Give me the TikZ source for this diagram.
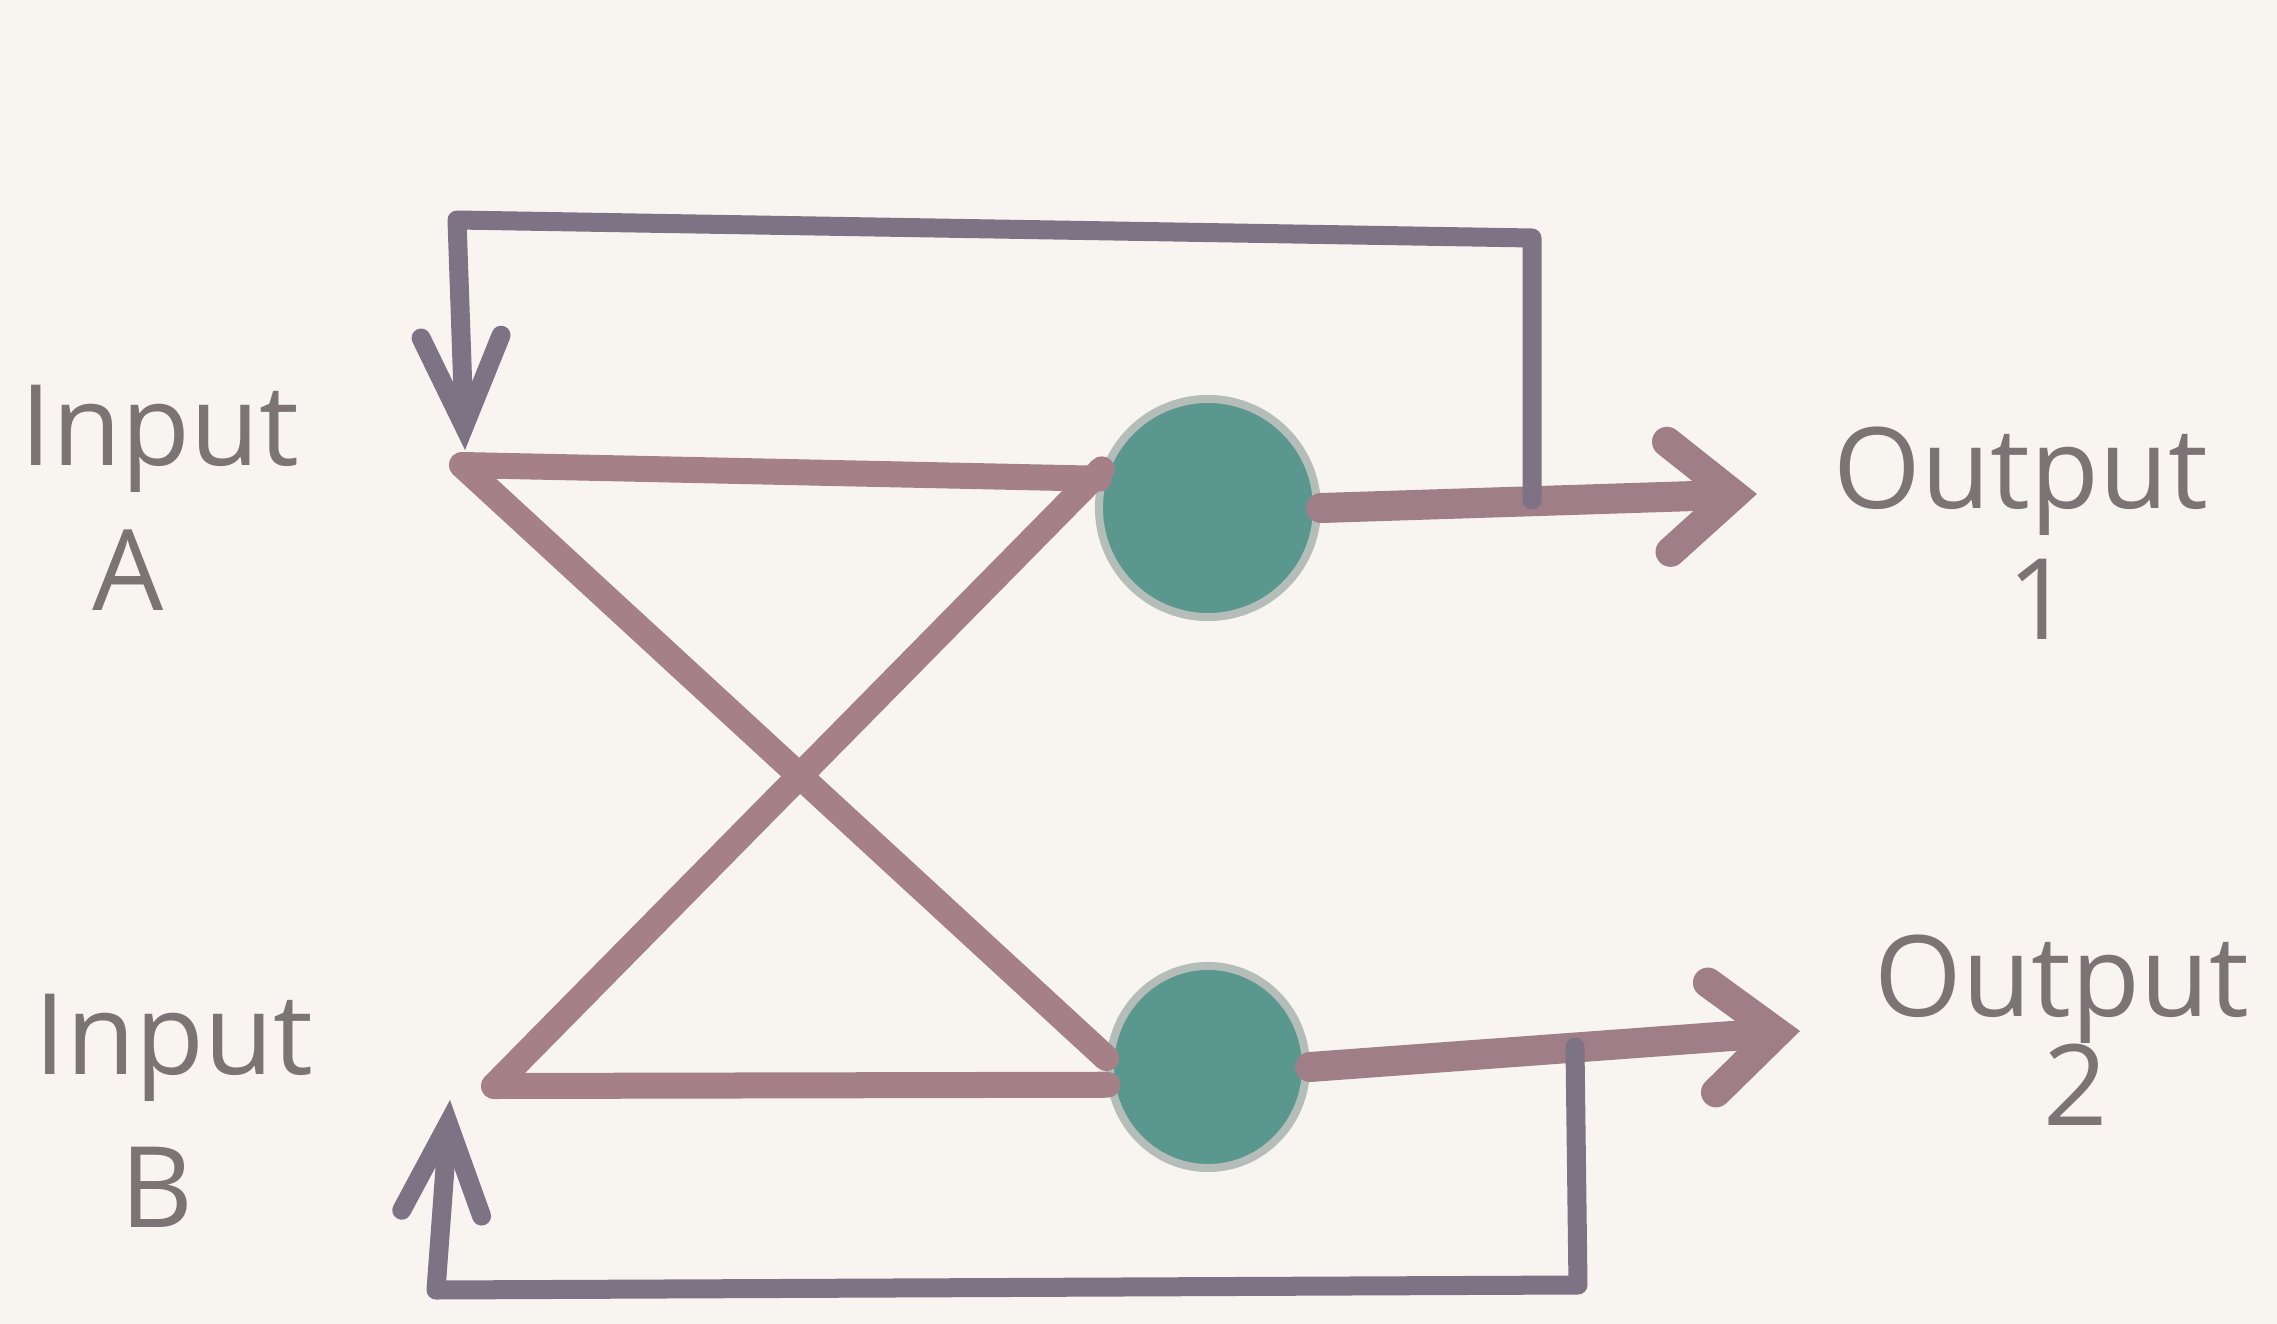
\documentclass[tikz,border=0pt]{standalone}
\usepackage{fontspec}
\setmainfont{Open Sans}
\usetikzlibrary{arrows.meta,shapes.geometric}
\definecolor{bg}{HTML}{F8F5F1}
\definecolor{fbcol}{HTML}{7E7285}
\definecolor{maincol}{HTML}{A58087}
\definecolor{mixfill}{HTML}{5A988F}
\definecolor{ring}{HTML}{B5BDB8}
\definecolor{txt}{HTML}{7C7474}
\begin{document}
\begin{tikzpicture}[x=0.01cm,y=-0.01cm,
  fb/.style={draw=fbcol,line width=0.19cm,line join=round,line cap=round},
  mainline/.style={draw=maincol,line width=0.26cm,line cap=round},
  outarrow/.style={draw=maincol!85!fbcol,line width=0.3cm,line cap=round,
    -{Straight Barb[length=0.65cm,width=1.1cm,line cap=round]}},
  inarrow/.style={-{Straight Barb[length=0.9cm,width=0.8cm,line cap=round]}},
  mixer/.style={circle,fill=mixfill,draw=ring,line width=0.08cm,inner sep=0pt},
  lbl/.style={text=txt,font=\fontsize{32}{38}\selectfont,anchor=base}]
\fill[bg] (0,0) rectangle (2277,1324);
\useasboundingbox (0,0) rectangle (2277,1324);

% mixers
\node[mixer,minimum size=2.18cm] (c1) at (1208,508) {};
\node[mixer,ellipse,minimum width=1.96cm,minimum height=2.02cm] (c2) at (1208,1067) {};

% junctions and corners
\coordinate (inA) at (462,465);
\coordinate (inAtip) at (465,450);
\coordinate (inB) at (494,1086);
\coordinate (inBtip) at (450,1100);
\coordinate (o1tip) at (1757,494);
\coordinate (o2tip) at (1800,1031);
\coordinate (tap1) at (1532,500);
\coordinate (tap2) at (1575,1047);
\coordinate (tl) at (457,220);
\coordinate (tr) at (1532,238);
\coordinate (br) at (1578,1285);
\coordinate (bl) at (436,1290);

% main signal lines
\draw[mainline] (inA) -- (c1.165);
\draw[mainline] (inA) -- (c2.175);
\draw[mainline] (inB) -- (c1.160);
\draw[mainline] (inB) -- (c2.190);

% outputs
\draw[outarrow] (c1.east) -- (o1tip);
\draw[outarrow] (c2.east) -- (o2tip);

% feedback loops
\draw[fb,inarrow] (tap1) -- (tr) -- (tl) -- (inAtip);
\draw[fb,inarrow] (tap2) -- (br) -- (bl) -- (inBtip);

% labels
\node[lbl] (la1) at (160,465) {Input};
\node[lbl] (la2) at (128,610) {A};
\node[lbl] (lb1) at (174,1074) {Input};
\node[lbl] (lb2) at (157,1227) {B};
\node[lbl] (lo1) at (2021,508) {Output};
\node[lbl] (lo1n) at (2040,639) {1};
\node[lbl] (lo2) at (2062,1016) {Output};
\node[lbl] (lo2n) at (2076,1125) {2};
\end{tikzpicture}
\end{document}
